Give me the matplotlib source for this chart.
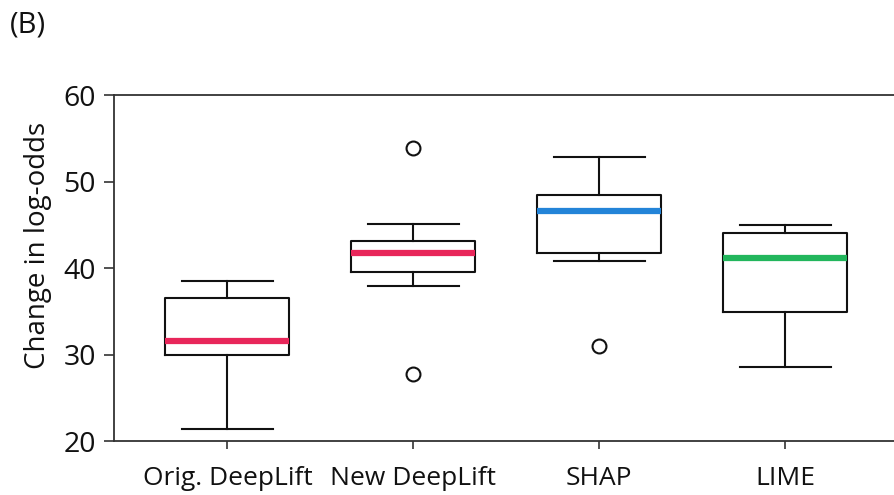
import numpy as np
import matplotlib.pyplot as plt

plt.rcParams['font.family'] = ['Open Sans', 'DejaVu Sans']

methods = ["Orig. DeepLift", "New DeepLift", "SHAP", "LIME"]
whislo = [21.4, 37.9, 40.8, 28.6]
q1 = [30.0, 39.5, 41.7, 34.9]
med = [31.6, 41.7, 46.6, 41.2]
q3 = [36.5, 43.1, 48.5, 44.0]
whishi = [38.5, 45.1, 52.8, 45.0]
fliers = [[], [53.9, 27.8], [31.0], []]
med_colors = ["#e8265a", "#e8265a", "#2384d8", "#22b65c"]

stats = []
for i in range(len(methods)):
    stats.append(dict(label=methods[i], whislo=whislo[i], q1=q1[i], med=med[i],
                      q3=q3[i], whishi=whishi[i], fliers=fliers[i]))

fig = plt.figure(figsize=(8.95, 4.95), dpi=100)
ax = fig.add_axes([0.1274, 0.109, 0.8726, 0.699])

bp = ax.bxp(stats, positions=np.arange(1, 5), widths=0.667, capwidths=0.49,
            boxprops=dict(color="#111111", linewidth=1.5),
            whiskerprops=dict(color="#111111", linewidth=1.5),
            capprops=dict(color="#111111", linewidth=1.5),
            flierprops=dict(marker="o", markersize=10, markerfacecolor="white",
                            markeredgecolor="#111111", markeredgewidth=1.5),
            medianprops=dict(linewidth=4.5, solid_capstyle="butt"))
for line, c in zip(bp["medians"], med_colors):
    line.set_color(c)

ax.set_xlim(0.39, 4.59)
ax.set_ylim(20, 60)
ax.set_yticks([20, 30, 40, 50, 60])
ax.spines["right"].set_visible(False)
for s in ["left", "bottom", "top"]:
    ax.spines[s].set_color("#333333")
    ax.spines[s].set_linewidth(1.3)
ax.tick_params(axis="both", colors="#333333", labelcolor="#111111",
               width=1.2, direction="out")
ax.tick_params(axis="y", labelsize=20.5, pad=6, length=7)
ax.tick_params(axis="x", labelsize=19, pad=12, length=6)
ax.set_ylabel("Change in log-odds", fontsize=20, color="#111111")
ax.yaxis.set_label_coords(-0.08, 0.564)

fig.text(0.011, 0.95, "(B)", fontsize=21, color="#111111", va="center")

fig.savefig("out.png", dpi=100)
